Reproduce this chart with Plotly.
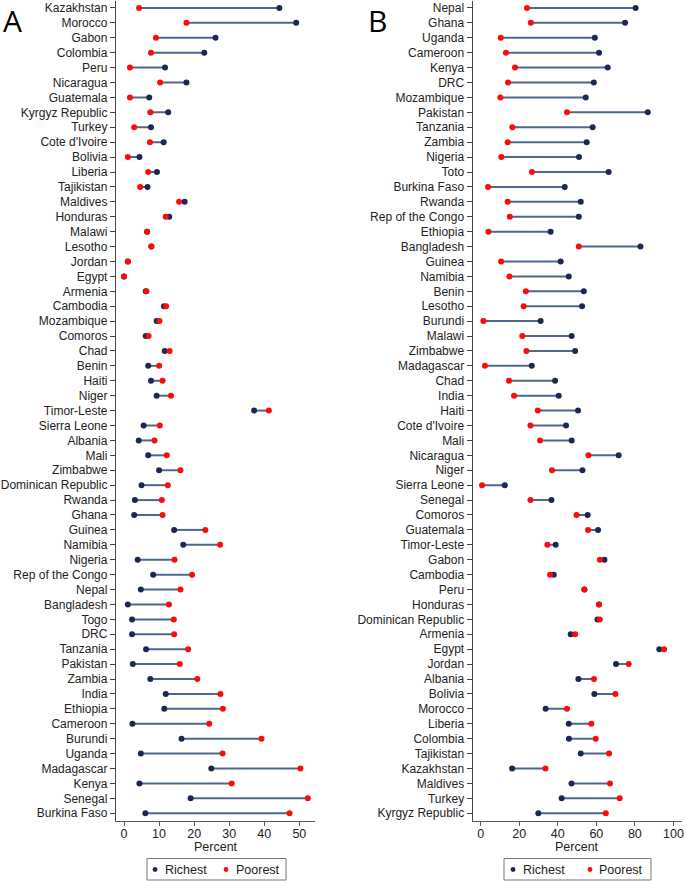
import plotly.graph_objects as go

# ---------------- Panel A data ----------------
countries_a = ["Kazakhstan", "Morocco", "Gabon", "Colombia", "Peru", "Nicaragua", "Guatemala",
               "Kyrgyz Republic", "Turkey", "Cote d'Ivoire", "Bolivia", "Liberia", "Tajikistan",
               "Maldives", "Honduras", "Malawi", "Lesotho", "Jordan", "Egypt", "Armenia", "Cambodia",
               "Mozambique", "Comoros", "Chad", "Benin", "Haiti", "Niger", "Timor-Leste",
               "Sierra Leone", "Albania", "Mali", "Zimbabwe", "Dominican Republic", "Rwanda", "Ghana",
               "Guinea", "Namibia", "Nigeria", "Rep of the Congo", "Nepal", "Bangladesh", "Togo", "DRC",
               "Tanzania", "Pakistan", "Zambia", "India", "Ethiopia", "Cameroon", "Burundi", "Uganda",
               "Madagascar", "Kenya", "Senegal", "Burkina Faso"]
richest_a = [44.3, 49.1, 26.1, 22.9, 11.7, 17.8, 7.2, 12.6, 7.7, 11.3, 4.4, 9.4, 6.7, 17.3, 12.9,
             6.6, 7.8, 1.1, 0.0, 6.2, 11.4, 9.3, 6.2, 11.6, 6.9, 7.7, 9.3, 37.1, 5.6, 4.2, 6.9, 10.0,
             5.0, 3.1, 2.9, 14.3, 16.9, 3.9, 8.3, 4.8, 1.1, 2.3, 2.3, 6.3, 2.5, 7.5, 11.9, 11.5, 2.4,
             16.4, 4.8, 24.9, 4.4, 19.0, 6.1]
poorest_a = [4.3, 17.8, 9.1, 7.7, 1.7, 10.3, 1.7, 7.5, 2.9, 7.4, 1.1, 6.9, 4.6, 15.7, 11.9,
             6.6, 7.8, 1.1, 0.0, 6.4, 12.0, 10.1, 7.0, 13.0, 10.0, 11.0, 13.4, 41.3, 10.2, 8.7, 12.2,
             16.1, 12.5, 10.8, 11.0, 23.2, 27.4, 14.4, 19.4, 16.1, 12.8, 14.2, 14.3, 18.3, 15.9, 20.9,
             27.5, 28.2, 24.3, 39.2, 28.1, 50.3, 30.7, 52.4, 47.2]

# ---------------- Panel B data ----------------
countries_b = ["Nepal", "Ghana", "Uganda", "Cameroon", "Kenya", "DRC", "Mozambique", "Pakistan",
               "Tanzania", "Zambia", "Nigeria", "Toto", "Burkina Faso", "Rwanda", "Rep of the Congo",
               "Ethiopia", "Bangladesh", "Guinea", "Namibia", "Benin", "Lesotho", "Burundi", "Malawi",
               "Zimbabwe", "Madagascar", "Chad", "India", "Haiti", "Cote d'Ivoire", "Mali", "Nicaragua",
               "Niger", "Sierra Leone", "Senegal", "Comoros", "Guatemala", "Timor-Leste", "Gabon",
               "Cambodia", "Peru", "Honduras", "Dominican Republic", "Armenia", "Egypt", "Jordan",
               "Albania", "Bolivia", "Morocco", "Liberia", "Colombia", "Tajikistan", "Kazakhstan",
               "Maldives", "Turkey", "Kyrgyz Republic"]
richest_b = [80.4, 74.9, 59.2, 61.4, 65.9, 58.7, 54.5, 86.7, 58.1, 55.0, 51.0, 66.4, 43.6, 51.9, 50.9,
             36.3, 82.9, 41.5, 45.7, 53.5, 52.6, 31.1, 47.2, 49.0, 26.5, 38.6, 40.5, 50.5, 44.3,
             47.2, 71.6, 52.8, 12.5, 36.7, 55.5, 60.9, 38.9, 64.2, 37.9, 53.8, 61.4, 60.6, 46.7,
             92.7, 70.2, 50.7, 59.0, 33.7, 45.7, 45.8, 51.9, 16.3, 47.1, 42.0, 29.9]
poorest_b = [24.0, 26.0, 10.4, 13.1, 17.8, 14.2, 10.2, 44.8, 16.4, 14.0, 10.7, 26.6, 3.8, 14.0, 15.1,
             4.0, 50.9, 10.6, 14.9, 23.4, 22.3, 1.4, 21.6, 23.7, 2.2, 14.7, 17.3, 29.6, 25.8,
             30.8, 55.9, 37.0, 0.7, 25.8, 49.7, 55.7, 34.6, 61.8, 36.0, 53.8, 61.4, 61.8, 49.0,
             95.2, 76.8, 58.8, 69.9, 44.8, 57.4, 59.7, 66.6, 33.6, 67.1, 72.1, 64.9]

x_ticks_a = [0, 10, 20, 30, 40, 50]
x_ticks_b = [0, 20, 40, 60, 80, 100]
x_title = "Percent"
legend_names = ["Richest", "Poorest"]

NAVY = "#1b2852"
RED = "#ff0a0a"
SEG = "#4d6888"
FONT = "Liberation Sans, Arial, sans-serif"
TXT = "#222222"
W, H = 685, 881

fig = go.Figure()


def add_panel(countries, rich, poor, xa, ya):
    seg_x, seg_y = [], []
    for c, r, p in zip(countries, rich, poor):
        seg_x += [p, r, None]
        seg_y += [c, c, None]
    fig.add_trace(go.Scatter(x=seg_x, y=seg_y, mode="lines", xaxis=xa, yaxis=ya,
                             line=dict(color=SEG, width=2), showlegend=False, hoverinfo="skip"))
    fig.add_trace(go.Scatter(x=rich, y=countries, mode="markers", xaxis=xa, yaxis=ya,
                             name=legend_names[0], showlegend=False,
                             marker=dict(color=NAVY, size=6)))
    fig.add_trace(go.Scatter(x=poor, y=countries, mode="markers", xaxis=xa, yaxis=ya,
                             name=legend_names[1], showlegend=False,
                             marker=dict(color=RED, size=6)))


add_panel(countries_a, richest_a, poorest_a, "x", "y")
add_panel(countries_b, richest_b, poorest_b, "x2", "y2")

ydom = [1 - 820.7 / H, 1 - 0.5 / H]

xaxis_common = dict(showgrid=False, zeroline=False, showline=True, linecolor="#555555", linewidth=1.2,
                    ticks="outside", ticklen=4, tickcolor="#555555", ticklabelstandoff=-3,
                    ticklabeloverflow="allow", automargin=False,
                    tickfont=dict(family=FONT, size=12.5, color=TXT))
yaxis_common = dict(showgrid=False, zeroline=False, showline=True, linecolor="#444444", linewidth=1.3,
                    ticks="outside", ticklen=5, tickcolor="#444444", type="category",
                    tickfont=dict(family=FONT, size=12, color=TXT), domain=ydom,
                    range=[54.5, -0.5], automargin=False)

xa_dom = [116 / W, 315 / W]
xb_dom = [472.7 / W, 681.7 / W]


def px(x):
    return x / W


def py(y):
    return 1 - y / H


shapes = []
annotations = []
# hand-placed legend boxes (pixel layout of the reference)
legend_layout = [
    # box x0, x1, navy dot x, richest text x, red dot x, poorest text x
    (147, 286, 155, 164, 226, 235),
    (504, 651, 513, 522, 590, 598),
]
LY0, LY1, LYC = 858.5, 880, 869.5
for bx0, bx1, d1, t1, d2, t2 in legend_layout:
    shapes.append(dict(type="rect", xref="paper", yref="paper", x0=px(bx0), x1=px(bx1),
                       y0=py(LY1), y1=py(LY0), line=dict(color="#777777", width=1),
                       fillcolor="white"))
    for dx, col in ((d1, NAVY), (d2, RED)):
        r = 2.4
        shapes.append(dict(type="circle", xref="paper", yref="paper", x0=px(dx - r), x1=px(dx + r),
                           y0=py(LYC + r), y1=py(LYC - r), line=dict(width=0), fillcolor=col))
    for tx, name in ((t1, legend_names[0]), (t2, legend_names[1])):
        annotations.append(dict(text=name, x=px(tx), y=py(LYC), xref="paper", yref="paper",
                                xanchor="left", yanchor="middle", showarrow=False,
                                font=dict(family=FONT, size=12.5, color=TXT), borderpad=0))

for lab, lx in (("A", 1), ("B", 366)):
    annotations.append(dict(text=lab, x=px(lx), y=1 + 2 / H, xref="paper", yref="paper",
                            xanchor="left", yanchor="top", showarrow=False,
                            font=dict(family="Open Sans, Liberation Sans, sans-serif", size=30,
                                      color="black")))
for dom in (xa_dom, xb_dom):
    annotations.append(dict(text=x_title, x=(dom[0] + dom[1]) / 2, y=py(846.5), xref="paper",
                            yref="paper", xanchor="center", yanchor="middle", showarrow=False,
                            font=dict(family=FONT, size=12.5, color=TXT), borderpad=0))

fig.update_layout(
    template="none",
    width=W, height=H, margin=dict(l=0, r=0, t=0, b=0, pad=0, autoexpand=False),
    paper_bgcolor="white", plot_bgcolor="white",
    font=dict(family=FONT), showlegend=False, hovermode=False,
    xaxis=dict(domain=xa_dom, range=[-2.28, 54.46], tickvals=x_ticks_a, anchor="y", **xaxis_common),
    yaxis=dict(anchor="x", categoryorder="array", categoryarray=countries_a, **yaxis_common),
    xaxis2=dict(domain=xb_dom, range=[-4.15, 104.3], tickvals=x_ticks_b, anchor="y2", **xaxis_common),
    yaxis2=dict(anchor="x2", categoryorder="array", categoryarray=countries_b, **yaxis_common),
    shapes=shapes,
    annotations=annotations,
)

fig.write_html("out.html", config={"displayModeBar": False},
               post_script="document.body.style.margin='0px';")
